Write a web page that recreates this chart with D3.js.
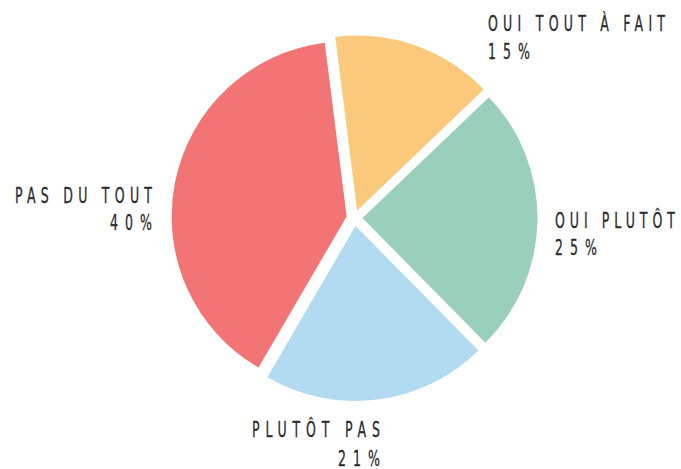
<!DOCTYPE html>
<html>
<head>
<meta charset="utf-8">
<script src="https://cdn.jsdelivr.net/npm/d3@7"></script>
<style>
  html, body { margin: 0; padding: 0; background: #fff; }
  svg { display: block; }
  .lbl { font-family: 'DejaVu Sans Condensed', 'DejaVu Sans', sans-serif; font-stretch: condensed; font-size: 20.5px; fill: #2b2b2b; stroke: #2b2b2b; stroke-width: 0.3px; }
</style>
</head>
<body>
<svg id="chart" width="681" height="469"></svg>
<script>
// ---- data ----
const categories = ["OUI TOUT À FAIT", "OUI PLUTÔT", "PLUTÔT PAS", "PAS DU TOUT"];
const values = [15, 25, 21, 40];
const valueLabels = ["15%", "25%", "21%", "40%"];
const colors = ["#FBC97B", "#9ACFBC", "#B2DAF1", "#F27474"];

// ---- layout ----
const W = 681, H = 469;
const cx = 354.5, cy = 218, R = 175, explode = 8;
const startDeg = -7.2;
const squeeze = 0.68; // horizontal glyph compression to mimic a narrow display face
// label placement (x, baselines, anchor, text widths)
const labelLayout = [
  { x: 488, y1: 31, y2: 59, anchor: "start", w1: 177, w2: 42 },
  { x: 555, y1: 228, y2: 255, anchor: "start", w1: 120, w2: 42 },
  { x: 380, y1: 437, y2: 465.5, anchor: "end", w1: 128, w2: 42 },
  { x: 152, y1: 202.5, y2: 230, anchor: "end", w1: 137, w2: 42 }
];

const svg = d3.select("#chart");
const data = categories.map((c, i) => ({ cat: c, value: values[i], pct: valueLabels[i], color: colors[i], lay: labelLayout[i] }));

const start = startDeg * Math.PI / 180;
const pie = d3.pie().sort(null).value(d => d.value).startAngle(start).endAngle(start + 2 * Math.PI);
const arc = d3.arc().innerRadius(0).outerRadius(R);

const g = svg.append("g").attr("transform", `translate(${cx},${cy})`);
g.selectAll("path.slice")
  .data(pie(data))
  .join("path")
  .attr("class", "slice")
  .attr("fill", d => d.data.color)
  .attr("transform", d => {
    const a = (d.startAngle + d.endAngle) / 2;
    return `translate(${Math.sin(a) * explode},${-Math.cos(a) * explode})`;
  })
  .attr("d", arc);

const lg = svg.append("g");
function addText(str, x, y, anchor, w) {
  lg.append("text").attr("class", "lbl")
    .attr("transform", `translate(${x},${y}) scale(${squeeze},1)`)
    .attr("x", 0).attr("y", 0)
    .attr("text-anchor", anchor)
    .attr("textLength", w / squeeze).attr("lengthAdjust", "spacing")
    .text(str);
}
data.forEach(d => {
  const L = d.lay;
  addText(d.cat, L.x, L.y1, L.anchor, L.w1);
  addText(d.pct, L.x, L.y2, L.anchor, L.w2);
});
</script>
</body>
</html>
